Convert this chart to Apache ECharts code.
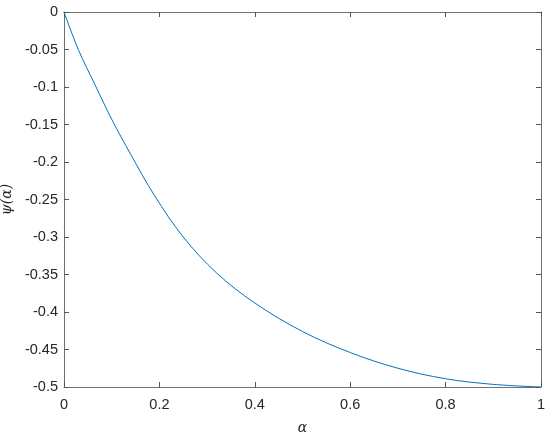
<!DOCTYPE html>
<html>
<head>
<meta charset="utf-8">
<title>psi(alpha)</title>
<script src="https://cdn.jsdelivr.net/npm/echarts@6/dist/echarts.min.js"></script>
<style>
  html, body { margin: 0; padding: 0; background: #fff; }
  #chart { width: 550px; height: 436px; }
</style>
</head>
<body>
<div id="chart"></div>
<script>
// values
var alphaVals = [0, 0.03, 0.065, 0.1, 0.14, 0.19, 0.25, 0.32, 0.4, 0.5, 0.6, 0.7, 0.8, 0.9, 1];
var psiVals = [0, -0.05, -0.097, -0.143, -0.19, -0.245, -0.3, -0.348, -0.388, -0.426, -0.454, -0.475, -0.489, -0.4965, -0.5];

var axisColor = '#6f6f6f';
var tickColor = '#555555';
var textColor = '#262626';

var points = alphaVals.map(function (a, i) { return [a, psiVals[i]]; });

var chart = echarts.init(document.getElementById('chart'));

// box around the plot, ticks pointing inwards on all four sides
function boxAxis(extra) {
    return Object.assign({
        axisLine: { show: true, onZero: false, lineStyle: { color: axisColor, width: 1 } },
        axisTick: { show: true, inside: true, length: 5, lineStyle: { color: tickColor, width: 1 } },
        splitLine: { show: false }
    }, extra);
}

chart.setOption({
    animation: false,
    grid: { left: 64, right: 9, top: 12, bottom: 49, containLabel: false, outerBoundsMode: 'none' },
    xAxis: [
        boxAxis({
            type: 'value', min: 0, max: 1, interval: 0.2, position: 'bottom',
            name: 'α', nameLocation: 'middle', nameGap: 34,
            nameTextStyle: { fontFamily: 'DejaVu Serif', fontStyle: 'italic', fontSize: 14, color: textColor },
            axisLabel: { color: textColor, fontFamily: 'Liberation Sans', fontSize: 14.5, margin: 10 }
        }),
        boxAxis({
            type: 'value', min: 0, max: 1, interval: 0.2, position: 'top',
            axisLabel: { show: false }
        })
    ],
    yAxis: [
        boxAxis({
            type: 'value', min: -0.5, max: 0, interval: 0.05, position: 'left',
            name: 'ψ(α)', nameLocation: 'middle', nameGap: 34, nameRotate: 90,
            nameTextStyle: { fontFamily: 'DejaVu Serif', fontStyle: 'italic', fontSize: 14, color: textColor },
            axisLabel: { color: textColor, fontFamily: 'Liberation Sans', fontSize: 14.5, margin: 6 }
        }),
        boxAxis({
            type: 'value', min: -0.5, max: 0, interval: 0.05, position: 'right',
            axisLabel: { show: false }
        })
    ],
    series: [{
        type: 'line',
        data: points,
        smooth: 0.35,
        showSymbol: false,
        lineStyle: { color: '#0072bd', width: 1 }
    }]
});
</script>
</body>
</html>
